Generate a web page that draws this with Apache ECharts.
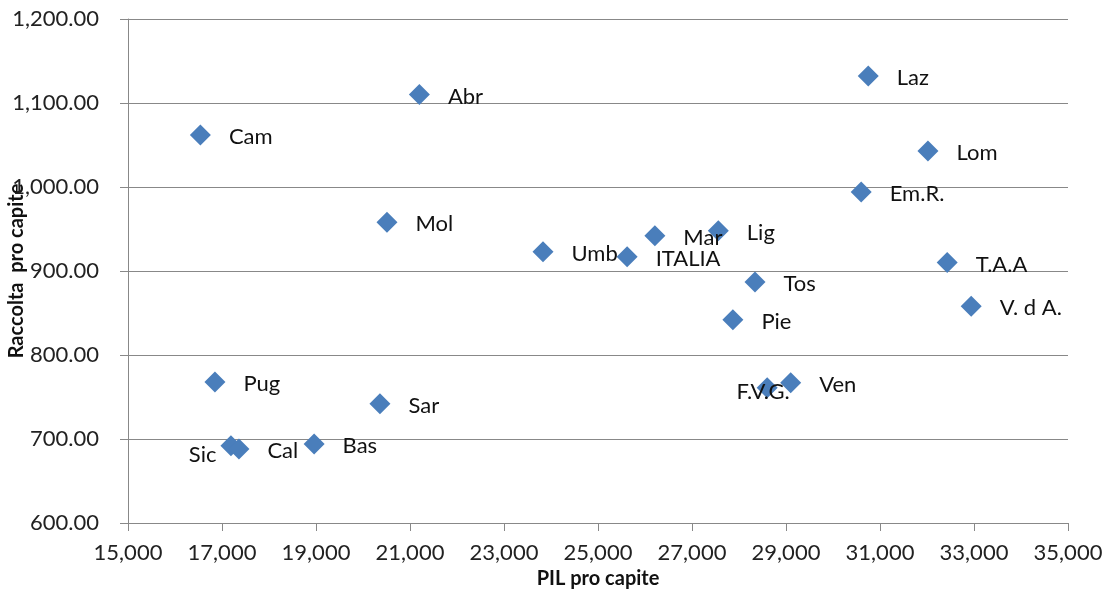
<!DOCTYPE html>
<html>
<head>
<meta charset="utf-8">
<script src="https://cdn.jsdelivr.net/npm/echarts@6/dist/echarts.min.js"></script>
<style>
  html, body { margin: 0; padding: 0; background: #fff; }
  #chart { width: 1111px; height: 592px; }
</style>
</head>
<body>
<div id="chart"></div>
<script>
// regioni, PIL pro capite, raccolta pro capite
var regions = ['Cam', 'Abr', 'Laz', 'Lom', 'Em.R.', 'Mol', 'Umb', 'ITALIA', 'Mar', 'Lig',
  'Tos', 'Pie', 'F.V.G.', 'Ven', 'T.A.A', 'V. d A.', 'Pug', 'Sar', 'Sic', 'Cal', 'Bas'];
var pil = [16540, 21200, 30750, 32020, 30600, 20510, 23830, 25620, 26210, 27560,
  28340, 27870, 28600, 29100, 32430, 32940, 16850, 20360, 17190, 17360, 18960];
var raccolta = [1062, 1110, 1132, 1043, 994, 958, 923, 917, 942, 948,
  887, 842, 761, 767, 910, 858, 768, 742, 692, 688, 694];
var xTicks = [15000, 35000, 2000];
var yTicks = [600, 1200, 100];

// some labels are not on the right of the point
var labelFix = {
  'Sic': { position: 'left', distance: 4, offset: [0, 9] },
  'F.V.G.': { position: 'inside', offset: [-4, 4] }
};

var points = regions.map(function (r, i) {
  var p = { name: r, value: [pil[i], raccolta[i]] };
  if (labelFix[r]) p.label = labelFix[r];
  return p;
});

function fmt(v, dec) {
  var s = v.toFixed(dec).split('.');
  s[0] = s[0].replace(/\B(?=(\d{3})+(?!\d))/g, ',');
  return s.join('.');
}

var font = 'Lato';
var chart = echarts.init(document.getElementById('chart'));
chart.setOption({
  animation: false,
  grid: { left: 128, right: 43, top: 19, bottom: 69, outerBoundsMode: 'none', containLabel: false },
  xAxis: {
    type: 'value',
    min: xTicks[0], max: xTicks[1], interval: xTicks[2],
    name: 'PIL pro capite',
    nameLocation: 'middle',
    nameGap: 46,
    nameMoveOverlap: false,
    nameTextStyle: { fontFamily: font, fontWeight: 'bold', fontSize: 20, color: '#111' },
    axisLine: { lineStyle: { color: '#888', width: 1 } },
    axisTick: { show: true, length: 8, lineStyle: { color: '#888' } },
    axisLabel: { margin: 19, fontFamily: font, fontSize: 22, color: '#222',
      formatter: function (v) { return fmt(v, 0); } },
    splitLine: { show: false }
  },
  yAxis: {
    type: 'value',
    min: yTicks[0], max: yTicks[1], interval: yTicks[2],
    name: 'Raccolta  pro capite',
    nameLocation: 'middle',
    nameGap: 101,
    nameMoveOverlap: false,
    nameTextStyle: { fontFamily: font, fontWeight: 'bold', fontSize: 20, color: '#111' },
    axisLine: { show: true, lineStyle: { color: '#888', width: 1 } },
    axisTick: { show: true, length: 8, lineStyle: { color: '#888' } },
    axisLabel: { margin: 29, fontFamily: font, fontSize: 22, color: '#222',
      formatter: function (v) { return fmt(v, 2); } },
    splitLine: { show: true, lineStyle: { color: '#888', width: 1 } }
  },
  series: [{
    type: 'scatter',
    symbol: 'diamond',
    symbolSize: 21,
    itemStyle: { color: '#4a7ebb', opacity: 1 },
    label: {
      show: true,
      position: 'right',
      distance: 18,
      offset: [0, 2],
      fontFamily: font,
      fontSize: 22,
      color: '#111',
      formatter: function (p) { return p.name; }
    },
    data: points
  }]
});
</script>
</body>
</html>
